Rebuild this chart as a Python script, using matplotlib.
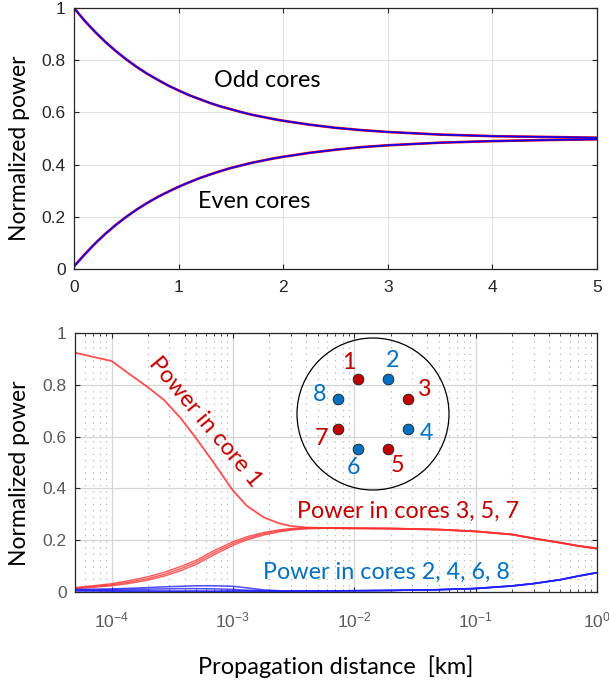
import numpy as np
import matplotlib
matplotlib.use('Agg')
import matplotlib.pyplot as plt
from matplotlib.patches import Circle

plt.rcParams['font.family'] = ['Lato', 'DejaVu Sans']
plt.rcParams['mathtext.default'] = 'regular'

# ---- top panel: power vs distance (linear) ----
z_top = [0, 0.1, 0.2, 0.3, 0.4, 0.5, 0.6, 0.7, 0.8, 0.9, 1.0, 1.1, 1.2, 1.3, 1.4, 1.5,
         1.6, 1.7, 1.8, 1.9, 2.0, 2.25, 2.5, 2.75, 3.0, 3.5, 4.0, 4.5, 5.0]
odd_red = [1.0, 0.952, 0.909, 0.870, 0.835, 0.803, 0.774, 0.748, 0.725, 0.703, 0.684,
           0.666, 0.651, 0.636, 0.623, 0.612, 0.601, 0.591, 0.583, 0.575, 0.568,
           0.553, 0.541, 0.532, 0.525, 0.515, 0.509, 0.506, 0.503]
odd_blue = [1.0, 0.952, 0.909, 0.870, 0.835, 0.803, 0.774, 0.748, 0.725, 0.703, 0.684,
            0.666, 0.651, 0.636, 0.623, 0.612, 0.601, 0.591, 0.583, 0.575, 0.568,
            0.553, 0.541, 0.532, 0.525, 0.515, 0.509, 0.506, 0.503]
even_red = [0.01, 0.055, 0.097, 0.135, 0.169, 0.200, 0.228, 0.253, 0.276, 0.296, 0.315,
            0.332, 0.348, 0.362, 0.375, 0.387, 0.397, 0.407, 0.415, 0.423, 0.430,
            0.445, 0.457, 0.467, 0.474, 0.484, 0.490, 0.494, 0.497]
even_blue = [0.01, 0.055, 0.097, 0.135, 0.169, 0.200, 0.228, 0.253, 0.276, 0.296, 0.315,
             0.332, 0.348, 0.362, 0.375, 0.387, 0.397, 0.407, 0.415, 0.423, 0.430,
             0.445, 0.457, 0.467, 0.474, 0.484, 0.490, 0.494, 0.497]

# ---- bottom panel: power vs distance (log) ----
z_bot = [5e-5, 7e-5, 1e-4, 1.4e-4, 2e-4, 2.7e-4, 3.7e-4, 5e-4, 7e-4, 1e-3, 1.3e-3, 1.8e-3,
         2.4e-3, 3e-3, 4e-3, 6e-3, 1e-2, 2e-2, 5e-2, 1e-1, 2e-1, 3e-1, 5e-1, 7e-1, 1.0]
core1 = [0.924, 0.908, 0.892, 0.842, 0.790, 0.742, 0.672, 0.592, 0.497, 0.392, 0.333, 0.288,
         0.265, 0.255, 0.249, 0.247, 0.246, 0.245, 0.241, 0.234, 0.222, 0.207, 0.190, 0.178, 0.168]
core3 = [0.015, 0.021, 0.028, 0.038, 0.052, 0.068, 0.090, 0.115, 0.152, 0.187, 0.207, 0.225,
         0.236, 0.242, 0.246, 0.247, 0.246, 0.245, 0.241, 0.234, 0.222, 0.207, 0.190, 0.178, 0.168]
core5 = [0.017, 0.024, 0.032, 0.044, 0.059, 0.076, 0.098, 0.123, 0.160, 0.194, 0.213, 0.230,
         0.240, 0.245, 0.248, 0.248, 0.247, 0.246, 0.242, 0.235, 0.223, 0.208, 0.191, 0.179, 0.170]
core7 = [0.013, 0.018, 0.024, 0.033, 0.046, 0.061, 0.082, 0.107, 0.144, 0.180, 0.201, 0.220,
         0.232, 0.239, 0.244, 0.246, 0.245, 0.244, 0.240, 0.233, 0.221, 0.206, 0.189, 0.177, 0.166]
core2 = [0.010, 0.011, 0.012, 0.014, 0.017, 0.020, 0.022, 0.024, 0.024, 0.022, 0.016, 0.008,
         0.005, 0.004, 0.004, 0.004, 0.005, 0.006, 0.009, 0.014, 0.024, 0.033, 0.048, 0.062, 0.075]
core4 = [0.008, 0.008, 0.009, 0.010, 0.011, 0.012, 0.013, 0.013, 0.012, 0.010, 0.007, 0.005,
         0.004, 0.004, 0.004, 0.004, 0.005, 0.006, 0.009, 0.014, 0.024, 0.033, 0.048, 0.062, 0.075]
core6 = [0.006, 0.005, 0.005, 0.004, 0.003, 0.004, 0.003, 0.002, 0.003, 0.004, 0.003, 0.003,
         0.003, 0.003, 0.004, 0.004, 0.005, 0.006, 0.009, 0.013, 0.023, 0.032, 0.047, 0.061, 0.074]
core8 = [0.004, 0.004, 0.003, 0.003, 0.004, 0.002, 0.003, 0.004, 0.002, 0.003, 0.004, 0.003,
         0.002, 0.003, 0.004, 0.004, 0.005, 0.006, 0.009, 0.013, 0.023, 0.032, 0.047, 0.061, 0.074]

core_ids = ['1', '2', '3', '4', '5', '6', '7', '8']
DRED = '#C00000'
DBLUE = '#0070C0'

W, H = 609, 680
fig = plt.figure(figsize=(W / 100, H / 100), dpi=100)

def px_axes(x0, y0, x1, y1):
    return fig.add_axes([x0 / W, 1 - y1 / H, (x1 - x0) / W, (y1 - y0) / H])

def style(ax, labcol):
    ax.tick_params(which='both', direction='in', top=True, right=True,
                   labelsize=12.5, labelcolor=labcol, color='#262626')
    for lab in ax.get_xticklabels() + ax.get_yticklabels():
        lab.set_fontfamily(['Liberation Sans', 'DejaVu Sans'])
    for s in ax.spines.values():
        s.set_color('#262626')
        s.set_linewidth(0.9)

# top
ax1 = px_axes(74, 8, 597, 269)
ax1.plot(z_top, odd_red, color='red', lw=1.9)
ax1.plot(z_top, even_red, color='red', lw=1.9)
ax1.plot(z_top, odd_blue, color='blue', lw=1.2)
ax1.plot(z_top, even_blue, color='blue', lw=1.2)
ax1.set_xlim(0, 5)
ax1.set_ylim(0, 1)
ax1.set_xticks([0, 1, 2, 3, 4, 5])
ax1.set_yticks([0, 0.2, 0.4, 0.6, 0.8, 1])
ax1.set_yticklabels(['0', '0.2', '0.4', '0.6', '0.8', '1'])
ax1.grid(True, color='#e0e0e0', lw=0.8)
style(ax1, '#262626')
ax1.tick_params(axis='x', pad=8)
ax1.tick_params(axis='y', pad=6)
ax1.set_ylabel('Normalized power', fontsize=16.5)
ax1.yaxis.set_label_coords(-0.085, 0.4636)
ax1.text(1.85, 0.724, 'Odd cores', fontsize=16.8, ha='center', va='center')
ax1.text(1.72, 0.257, 'Even cores', fontsize=16.8, ha='center', va='center')

# bottom
ax2 = px_axes(75, 333, 597, 592)
for c in [core3, core5, core7]:
    ax2.plot(z_bot, c, color='#ff3030', lw=1.0, alpha=0.8)
ax2.plot(z_bot, core1, color='#ff3030', lw=1.3, alpha=0.85)
for c in [core2, core4, core6, core8]:
    ax2.plot(z_bot, c, color='#2020ff', lw=1.1, alpha=0.8)
ax2.set_xscale('log')
ax2.set_xlim(5e-5, 1)
ax2.set_ylim(0, 1)
ax2.set_yticks([0, 0.2, 0.4, 0.6, 0.8, 1])
ax2.set_yticklabels(['0', '0.2', '0.4', '0.6', '0.8', '1'])
ax2.grid(True, which='major', color='#d4d4d4', lw=0.9)
ax2.grid(True, which='minor', axis='x', color='#b8b8b8', lw=0.9, ls=(0, (1, 4)))
style(ax2, '#5a5a5a')
ax2.tick_params(axis='x', which='major', pad=13)
ax2.tick_params(axis='y', pad=6)
ax2.set_ylabel('Normalized power', fontsize=16.5)
ax2.yaxis.set_label_coords(-0.087, 0.459)
ax2.set_xlabel('Propagation distance  [km]', fontsize=17, labelpad=18)
ax2.text(5.87e-4, 0.656, 'Power in core 1', fontsize=16.8, color=DRED,
         rotation=-50, ha='center', va='center', rotation_mode='anchor')
ax2.text(2.79e-2, 0.313, 'Power in cores 3, 5, 7', fontsize=16.8, color=DRED,
         ha='center', va='center')
ax2.text(1.84e-2, 0.077, 'Power in cores 2, 4, 6, 8', fontsize=16.8, color=DBLUE,
         ha='center', va='center')

# fibre cross-section inset
cx, cy, half = 373, 414, 85
axi = px_axes(cx - half, cy - half, cx + half, cy + half)
lim = half / 38
axi.set_xlim(-lim, lim)
axi.set_ylim(-lim, lim)
axi.axis('off')
axi.add_patch(Circle((0, 0), 2.0, fill=False, ec='black', lw=0.9))
ang = np.deg2rad(112.5 - 45 * np.arange(8))
for k, name in enumerate(core_ids):
    col = DRED if k % 2 == 0 else DBLUE
    axi.scatter(np.cos(ang[k]), np.sin(ang[k]), s=60, color=col, ec='#202020', lw=0.6, zorder=3)
    axi.text(1.5 * np.cos(ang[k] + 0.05), 1.5 * np.sin(ang[k] + 0.05), name, fontsize=16.8,
             color=col, ha='center', va='center')

fig.savefig('out.png', dpi=100)
